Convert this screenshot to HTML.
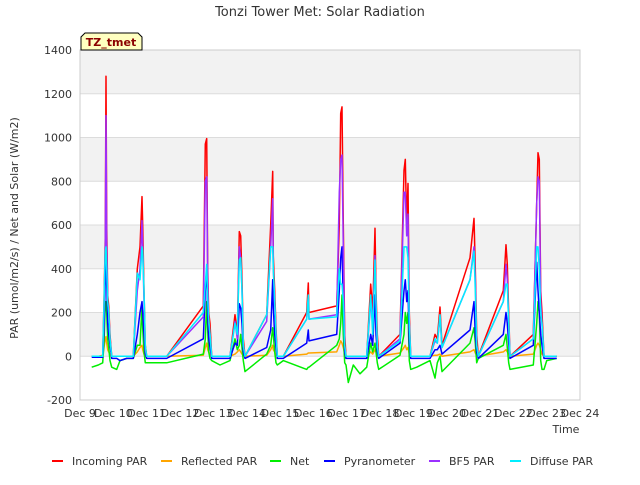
<!DOCTYPE html>
<html><head><meta charset="utf-8"><style>
body{margin:0;background:#fff;font-family:"Liberation Sans","DejaVu Sans",sans-serif}
svg text{font-family:"DejaVu Sans","Liberation Sans",sans-serif}
</style></head><body>
<svg id="chart" width="640" height="480" viewBox="0 0 640 480" xmlns="http://www.w3.org/2000/svg">
<rect width="640" height="480" fill="#fff"/>
<g id="bands"></g>
<g id="grid"></g>
<rect x="80" y="50" width="500" height="350" fill="none" stroke="#ccc"/>
<g id="series"></g>
<g id="axes" font-size="11" fill="#333"></g>
<text x="320" y="16" text-anchor="middle" font-size="13" fill="#333">Tonzi Tower Met: Solar Radiation</text>
<text transform="translate(18,228) rotate(-90)" text-anchor="middle" font-size="11" fill="#333">PAR (umol/m2/s) / Net and Solar (W/m2)</text>
<text x="566" y="433" text-anchor="middle" font-size="11" fill="#333">Time</text>
<g>
<path d="M81,50 L81,37 L85,33 L138,33 L142,37 L142,50 Z" fill="#ffffc0" stroke="#000"/>
<text x="111" y="46" text-anchor="middle" font-size="11" font-weight="bold" fill="#8b0000">TZ_tmet</text>
</g>
<g id="legend" font-size="11" fill="#333"></g>
</svg>
<script>
const times=[0.35,0.55,0.68,0.72,0.76,0.78,0.80,0.83,0.86,0.90,0.95,1.10,1.20,1.40,1.60,1.72,1.80,1.86,1.88,1.92,1.96,2.0,2.3,2.6,3.7,3.76,3.80,3.83,3.86,3.9,3.95,4.2,4.5,4.65,4.72,4.78,4.82,4.86,4.9,4.95,5.6,5.72,5.78,5.80,5.84,5.88,5.92,6.1,6.8,6.85,6.87,7.7,7.78,7.82,7.86,7.90,7.94,7.98,8.05,8.2,8.4,8.6,8.72,8.78,8.85,8.88,8.92,8.96,9.6,9.72,9.76,9.80,9.84,9.88,9.92,10.1,10.5,10.65,10.72,10.8,10.86,11.7,11.82,11.86,11.9,11.95,12.7,12.78,12.82,12.86,12.9,13.6,13.7,13.74,13.78,13.82,13.86,13.92,14.0,14.3];
const incoming=[0,0,0,250,550,1280,600,280,230,100,0,0,0,0,0,400,500,730,600,300,50,0,0,0,230,970,995,400,200,150,0,0,0,190,100,570,550,350,80,0,190,600,845,460,300,130,0,0,200,335,200,230,600,1110,1140,600,100,0,0,0,0,0,330,200,585,300,100,0,100,850,900,600,790,200,0,0,0,100,80,225,50,450,630,400,100,0,300,510,420,200,0,100,700,930,900,300,200,0,0,0];
const reflected=[0,0,5,40,80,90,60,30,20,10,0,0,0,0,0,20,40,50,30,10,0,0,0,0,5,40,60,30,20,10,0,0,0,10,20,30,20,10,5,0,5,30,50,30,20,5,0,0,10,15,15,20,50,70,60,40,10,0,0,0,0,0,20,10,30,20,5,0,15,40,50,30,40,10,0,0,0,5,5,10,0,20,30,15,5,0,20,30,20,10,0,10,50,60,50,30,10,0,0,0];
const net=[-50,-40,-30,60,240,250,200,80,40,-20,-50,-60,-20,-10,-10,50,50,230,130,20,-30,-30,-30,-30,10,80,250,120,20,-10,-20,-40,-20,80,30,50,100,40,-20,-70,10,50,130,100,20,-30,-40,-20,-60,-50,-50,50,80,150,280,100,-30,-40,-120,-40,-80,-50,60,20,60,20,-30,-60,5,100,200,150,200,-20,-60,-50,-20,-100,-30,0,-70,60,130,60,-30,-10,50,100,40,-30,-60,-40,150,250,200,-20,-60,-60,-20,-10];
const pyranometer=[-5,-5,-5,120,350,550,330,150,100,50,-10,-10,-20,-10,-10,100,200,250,200,100,10,-10,-10,-10,80,300,400,180,80,40,-10,-10,-10,60,50,240,220,150,20,-10,40,120,350,220,100,40,-10,-10,60,120,70,100,300,450,500,250,20,-10,-10,-10,-10,-10,100,50,280,100,20,-10,60,300,350,250,300,60,-10,-10,-10,30,30,50,10,120,250,100,20,-10,100,200,150,60,-10,50,430,300,200,100,50,-10,-10,-10];
const bf5=[0,0,0,200,520,1100,500,250,200,80,0,0,0,0,0,300,400,620,500,250,30,0,0,0,180,800,820,350,150,100,0,0,0,160,80,500,450,300,50,0,160,500,720,400,250,100,0,0,170,270,170,190,750,900,920,500,50,0,0,0,0,0,250,150,460,250,50,0,80,750,750,550,650,150,0,0,0,70,60,180,40,350,500,350,50,0,250,420,350,150,0,80,700,820,800,250,150,0,0,0];
const diffuse=[0,0,0,240,480,500,400,250,200,80,0,0,0,0,0,380,350,500,480,300,50,0,0,0,200,330,420,260,170,100,0,0,0,150,100,440,450,300,50,0,190,500,500,400,250,100,0,0,170,280,170,180,400,330,330,250,50,0,0,0,0,0,280,100,440,250,50,0,70,500,500,500,450,150,0,0,0,80,60,190,40,350,480,300,50,0,250,330,330,150,0,80,500,500,400,200,150,0,0,0];
const yTicks=[-200,0,200,400,600,800,1000,1200,1400];
const xTickLabels=["Dec 9","Dec 10","Dec 11","Dec 12","Dec 13","Dec 14","Dec 15","Dec 16","Dec 17","Dec 18","Dec 19","Dec 20","Dec 21","Dec 22","Dec 23","Dec 24"];
const seriesNames=["Incoming PAR","Reflected PAR","Net","Pyranometer","BF5 PAR","Diffuse PAR"];
const seriesColors=["#ff0000","#ffa500","#00ee00","#0000ff","#9b30ff","#00eeff"];

const NS="http://www.w3.org/2000/svg";
const X0=80,X1=580,Y0=50,Y1=400,TMAX=15,VMIN=-200,VMAX=1400;
const xs=t=>X0+(t/TMAX)*(X1-X0);
const ys=v=>Y1-(v-VMIN)/(VMAX-VMIN)*(Y1-Y0);
function mk(tag,attrs,parent){const e=document.createElementNS(NS,tag);for(const k in attrs)e.setAttribute(k,attrs[k]);parent.appendChild(e);return e;}
const bands=document.getElementById('bands'),grid=document.getElementById('grid'),axes=document.getElementById('axes'),series=document.getElementById('series'),legend=document.getElementById('legend');
for(let i=0;i<yTicks.length-1;i++){
  if(i%2===1){const b=mk('rect',{x:X0,y:ys(yTicks[i+1]),width:X1-X0,height:ys(yTicks[i])-ys(yTicks[i+1]),fill:'#f2f2f2'},bands);
  
  }
}
yTicks.forEach(v=>{
  const l=mk('line',{x1:X0,x2:X1,y1:ys(v),y2:ys(v),stroke:'#dcdcdc'},grid);
  
  
  const t=mk('text',{x:X0-8,y:ys(v)+4,'text-anchor':'end'},axes);t.textContent=v;
  
  
});
xTickLabels.forEach((s,i)=>{
  const t=mk('text',{x:xs(i),y:417,'text-anchor':'middle'},axes);t.textContent=s;
  
  
});
[incoming,reflected,net,pyranometer,bf5,diffuse].forEach((arr,si)=>{
  const d=arr.map((v,i)=>(i?'L':'M')+xs(times[i]).toFixed(1)+','+ys(v).toFixed(1)).join(' ');
  const p=mk('path',{d:d,fill:'none',stroke:seriesColors[si],'stroke-width':1.5,'stroke-linejoin':'round'},series);
  
  
});
const legX=[52,161,270,324,429,510];
seriesNames.forEach((n,i)=>{
  const g=mk('g',{},legend);
  
  
  mk('line',{x1:legX[i],x2:legX[i]+11,y1:461,y2:461,stroke:seriesColors[i],'stroke-width':2},g);
  const t=mk('text',{x:legX[i]+20,y:465},g);t.textContent=n;
});
</script>
</body></html>
